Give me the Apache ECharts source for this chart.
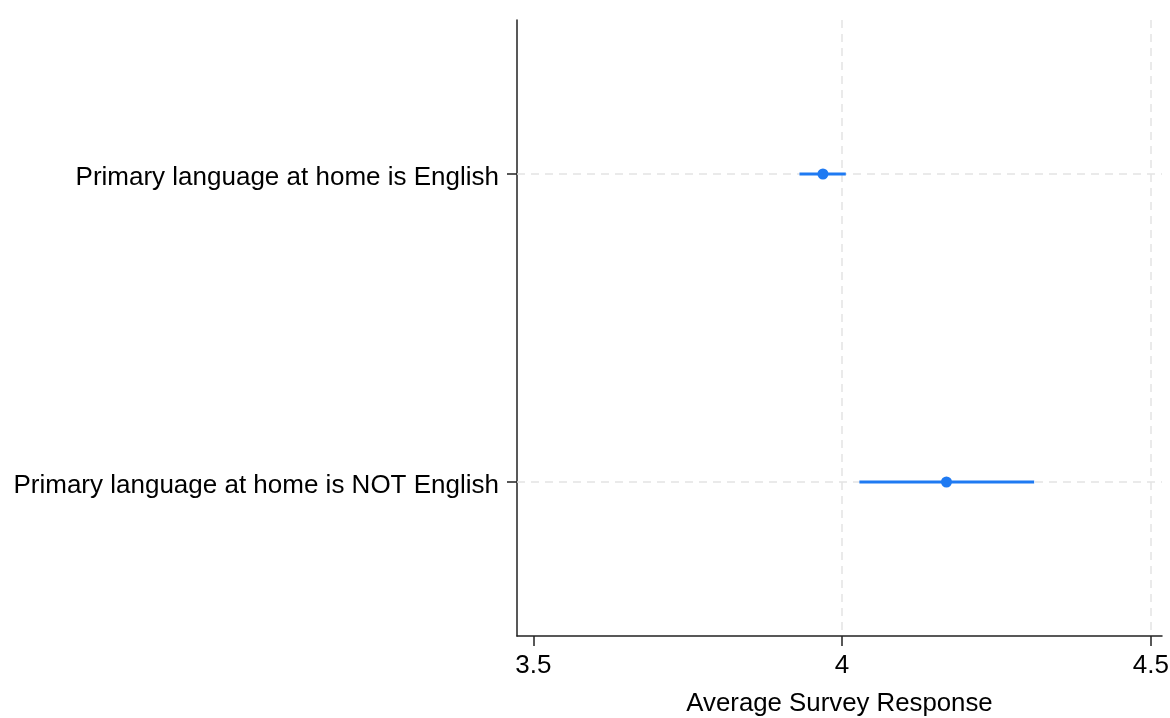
<!DOCTYPE html>
<html>
<head>
<meta charset="utf-8">
<script src="https://cdn.jsdelivr.net/npm/echarts@6/dist/echarts.min.js"></script>
<style>
  html, body { margin: 0; padding: 0; background: #fff; }
  #chart { width: 1170px; height: 718px; }
</style>
</head>
<body>
<div id="chart"></div>
<script>
// Groups shown on the vertical axis, top to bottom
const categories = [
  'Primary language at home is English',
  'Primary language at home is NOT English'
];
// Mean survey response and its confidence interval for each group
const means = [3.969, 4.169];
const ciLow = [3.931, 4.028];
const ciHigh = [4.006, 4.311];
// Tick values on the horizontal axis
const xTicks = [3.5, 4, 4.5];
// Dashed reference lines drawn across the plot
const xGridValues = [4, 4.5];

const blue = '#1f7af2';
const font = "'Liberation Sans', Arial, Helvetica, sans-serif";

const chart = echarts.init(document.getElementById('chart'));

const intervalData = categories.map((c, i) => [ciLow[i], ciHigh[i], i]);
const pointData = categories.map((c, i) => [means[i], i]);

chart.setOption({
  animation: false,
  backgroundColor: '#fff',
  grid: { left: 517, right: 8, top: 20, bottom: 82, outerBoundsMode: 'none', containLabel: false },
  xAxis: {
    type: 'value',
    min: 3.4736,
    max: 4.518,
    name: 'Average Survey Response',
    nameLocation: 'middle',
    nameGap: 55,
    nameTextStyle: { fontFamily: font, fontSize: 25.8, color: '#000' },
    axisLine: { show: true, lineStyle: { color: '#222', width: 1.5 } },
    axisTick: { show: true, customValues: xTicks, length: 10, lineStyle: { color: '#222', width: 1.5 } },
    axisLabel: { customValues: xTicks, margin: 17, fontFamily: font, fontSize: 26, color: '#000',
                 formatter: v => String(v) },
    splitLine: { show: false }
  },
  yAxis: {
    type: 'category',
    data: categories,
    inverse: true,
    boundaryGap: true,
    axisLine: { show: true, lineStyle: { color: '#222', width: 1.5 } },
    axisTick: { show: true, alignWithLabel: true, length: 10, lineStyle: { color: '#222', width: 1.5 } },
    axisLabel: {
      margin: 18,
      formatter: v => '{t|' + v + '}',
      rich: { t: { fontFamily: font, fontSize: 26, color: '#000', padding: [7, 0, 0, 0] } }
    },
    splitLine: { show: false }
  },
  series: [
    {
      // dashed grid lines
      type: 'line',
      data: [],
      z: 1,
      silent: true,
      markLine: {
        z: 1,
        silent: true,
        symbol: ['none', 'none'],
        label: { show: false },
        lineStyle: { color: '#e4e4e4', type: [8, 6], width: 1.5 },
        data: [
          ...xGridValues.map(v => ({ xAxis: v })),
          ...categories.map(c => ({ yAxis: c }))
        ]
      }
    },
    {
      // confidence intervals
      type: 'custom',
      z: 10,
      data: intervalData,
      encode: { x: [0, 1], y: 2 },
      renderItem: (params, api) => {
        const y = api.value(2);
        const p1 = api.coord([api.value(0), y]);
        const p2 = api.coord([api.value(1), y]);
        return {
          type: 'line',
          shape: { x1: p1[0], y1: p1[1], x2: p2[0], y2: p2[1] },
          style: { stroke: blue, lineWidth: 2.8 }
        };
      }
    },
    {
      // group means
      type: 'scatter',
      z: 11,
      data: pointData,
      symbol: 'circle',
      symbolSize: 11,
      itemStyle: { color: blue, opacity: 1 }
    }
  ]
});
</script>
</body>
</html>
